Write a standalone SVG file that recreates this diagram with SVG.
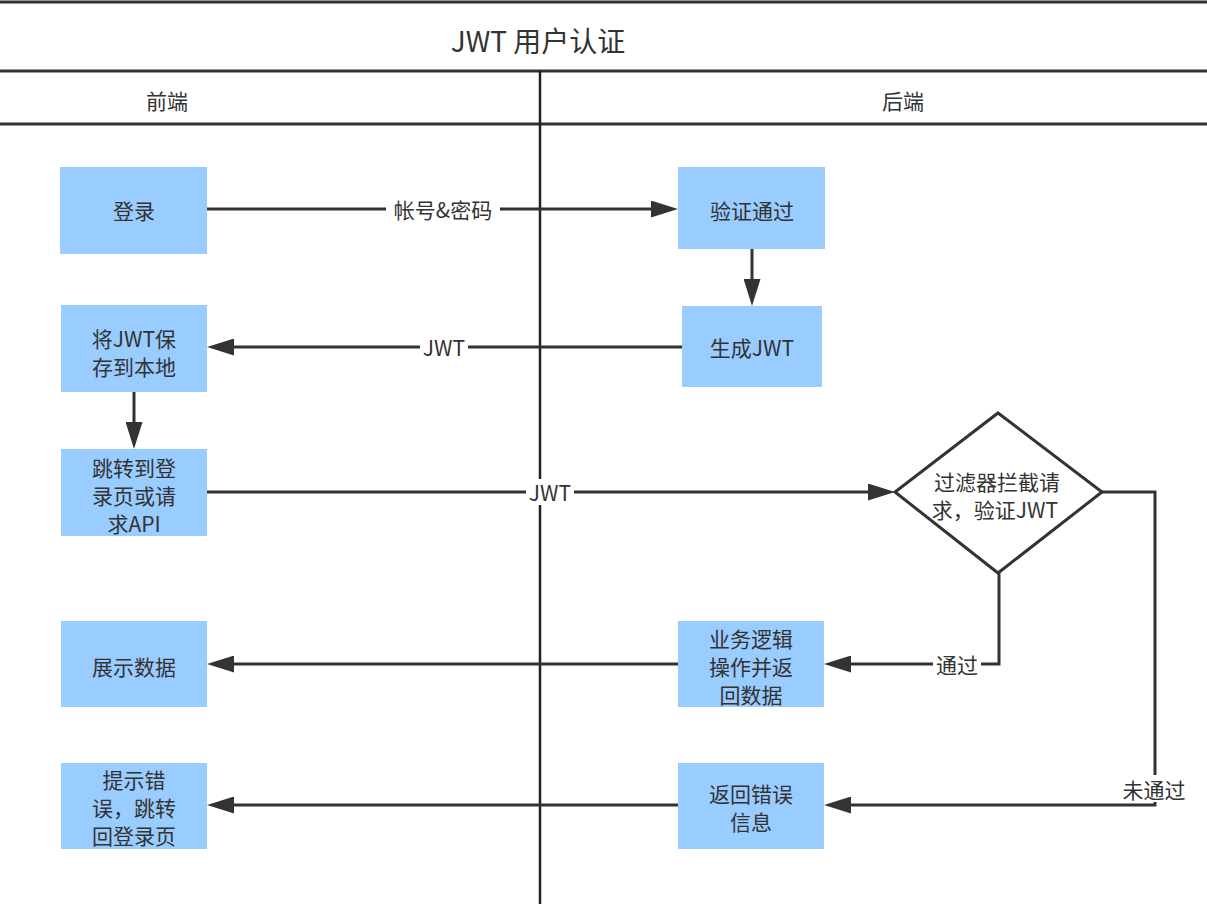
<svg xmlns="http://www.w3.org/2000/svg" width="1207" height="904" viewBox="0 0 1207 904">
<defs>
<style>
text{font-family:"Noto Sans CJK SC","Liberation Sans",sans-serif;fill:#333;text-anchor:middle;dominant-baseline:central}
.t{font-size:21px}
.title{font-size:28px}
.hdr{font-size:21px}
.box{fill:#99CCFF;stroke:none}
.frame{stroke:#333;stroke-width:3;fill:none}
.lane{stroke:#222;stroke-width:2.5;fill:none}
.edge{stroke:#333;stroke-width:3;fill:none;marker-end:url(#arr)}
.lbg{fill:#fff}
.dia{fill:#fff;stroke:#333;stroke-width:3}
</style>
<marker id="arr" markerUnits="userSpaceOnUse" markerWidth="27" markerHeight="17" refX="17" refY="8.5" orient="auto">
<path d="M0,0 L27,8.5 L0,17 z" fill="#333"/>
</marker>
</defs>
<rect x="0" y="0" width="1207" height="904" fill="#fff"/>
<g id="frame">
<line class="frame" x1="0" y1="2" x2="1207" y2="2"/>
<line class="frame" x1="0" y1="71" x2="1207" y2="71"/>
<line class="frame" x1="0" y1="124" x2="1207" y2="124"/>
<line class="lane" x1="540" y1="71" x2="540" y2="904"/>
<text class="title" x="538" y="40">JWT 用户认证</text>
<text class="hdr" x="167" y="100">前端</text>
<text class="hdr" x="903" y="100">后端</text>
</g>
<g id="connectors">
<path class="edge" d="M207,209 H668"/>
<path class="edge" d="M752,249 V296"/>
<path class="edge" d="M682,347 H217"/>
<path class="edge" d="M134,392 V439"/>
<path class="edge" d="M207,492 H885"/>
<path class="edge" d="M999,573 V664 H834"/>
<path class="edge" d="M1102,492 H1155 V805 H834"/>
<path class="edge" d="M678,664 H217"/>
<path class="edge" d="M678,805 H217"/>
<rect class="lbg" x="386" y="196" width="114" height="26"/>
<text class="t" x="443" y="209">帐号&amp;密码</text>
<rect class="lbg" x="420" y="334" width="48" height="26"/>
<text class="t" x="444" y="347">JWT</text>
<rect class="lbg" x="526" y="479" width="48" height="26"/>
<text class="t" x="550" y="492">JWT</text>
<rect class="lbg" x="933" y="651" width="48" height="26"/>
<text class="t" x="957" y="664">通过</text>
<rect class="lbg" x="1118" y="775" width="72" height="27"/>
<text class="t" x="1154" y="789">未通过</text>
</g>
<g id="n-login">
<rect class="box" x="60" y="167" width="147" height="87"/>
<text class="t" x="134" y="210">登录</text>
</g>
<g id="n-verify">
<rect class="box" x="678" y="167" width="147" height="82"/>
<text class="t" x="752" y="210">验证通过</text>
</g>
<g id="n-gen">
<rect class="box" x="682" y="306" width="140" height="81"/>
<text class="t" x="752" y="347">生成JWT</text>
</g>
<g id="n-save">
<rect class="box" x="61" y="305" width="146" height="87"/>
<text class="t" x="134" y="338">将JWT保</text>
<text class="t" x="134" y="366">存到本地</text>
</g>
<g id="n-jump">
<rect class="box" x="61" y="449" width="146" height="87"/>
<text class="t" x="134" y="467">跳转到登</text>
<text class="t" x="134" y="495">录页或请</text>
<text class="t" x="134" y="523">求API</text>
</g>
<g id="n-filter">
<polygon class="dia" points="998,413 1102,492 998,573 895,492"/>
<text class="t" x="997" y="481">过滤器拦截请</text>
<text class="t" x="995" y="509">求，验证JWT</text>
</g>
<g id="n-biz">
<rect class="box" x="678" y="621" width="146" height="86"/>
<text class="t" x="751" y="638">业务逻辑</text>
<text class="t" x="751" y="666">操作并返</text>
<text class="t" x="751" y="694">回数据</text>
</g>
<g id="n-show">
<rect class="box" x="61" y="621" width="146" height="86"/>
<text class="t" x="134" y="666">展示数据</text>
</g>
<g id="n-err">
<rect class="box" x="678" y="763" width="146" height="86"/>
<text class="t" x="751" y="793">返回错误</text>
<text class="t" x="751" y="821">信息</text>
</g>
<g id="n-tip">
<rect class="box" x="61" y="763" width="146" height="86"/>
<text class="t" x="134" y="779">提示错</text>
<text class="t" x="134" y="807">误，跳转</text>
<text class="t" x="134" y="835">回登录页</text>
</g>
</svg>
